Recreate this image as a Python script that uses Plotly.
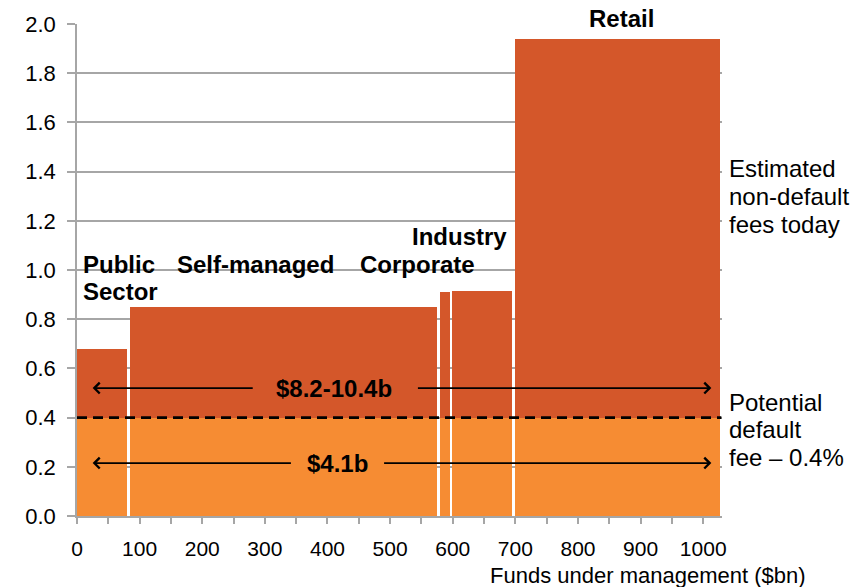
import plotly.graph_objects as go

# ---- data ----
segments = ["Public Sector", "Self-managed", "Corporate", "Industry", "Retail"]
fum_bn = [82, 495, 20, 100, 332]          # funds under management ($bn), bar widths
current_fee = [0.68, 0.85, 0.91, 0.915, 1.94]  # estimated non-default fees today (%)
default_fee = 0.4                          # potential default fee (%)
x_ticks = [0, 100, 200, 300, 400, 500, 600, 700, 800, 900, 1000]
y_ticks = [0.0, 0.2, 0.4, 0.6, 0.8, 1.0, 1.2, 1.4, 1.6, 1.8, 2.0]
upper_label = "$8.2-10.4b"
lower_label = "$4.1b"

DARK = "#D4572A"
LIGHT = "#F68C33"
GRID = "#A6A6A6"
FONT = "Liberation Sans, Arial, sans-serif"

gap = 4
starts, centers, widths = [], [], []
cum = 0
for i, w in enumerate(fum_bn):
    left = cum + (gap / 2 if i > 0 else 0)
    right = cum + w - gap / 2
    starts.append(left)
    centers.append((left + right) / 2)
    widths.append(right - left)
    cum += w
total = cum

fig = go.Figure()
fig.add_trace(go.Bar(x=centers, y=[default_fee] * len(fum_bn), width=widths, base=0,
                     marker=dict(color=LIGHT, line=dict(width=0)), showlegend=False,
                     hoverinfo="skip"))
fig.add_trace(go.Bar(x=centers, y=[f - default_fee for f in current_fee], width=widths,
                     base=default_fee, marker=dict(color=DARK, line=dict(width=0)),
                     showlegend=False, hoverinfo="skip"))

# dashed default-fee line
fig.add_shape(type="line", x0=0, x1=total, y0=default_fee, y1=default_fee, xref="x", yref="y",
              line=dict(color="black", width=2.6, dash="10px,6px"))

# arrows
def arrow(tip, tail, y):
    fig.add_annotation(x=tip, y=y, ax=tail, ay=y, xref="x", yref="y", axref="x", ayref="y",
                       text="", showarrow=True, arrowhead=4, arrowsize=1.3, arrowwidth=1.6,
                       arrowcolor="black")

arrow(25, 283, 0.52)
arrow(1013, 542, 0.52)
arrow(25, 344, 0.215)
arrow(1013, 488, 0.215)

bold = dict(size=24, color="black", family=FONT)
reg = dict(size=24, color="black", family=FONT)

fig.add_annotation(x=411, y=0.52, text=f"<b>{upper_label}</b>", showarrow=False, font=bold)
fig.add_annotation(x=416, y=0.215, text=f"<b>{lower_label}</b>", showarrow=False, font=bold)

# segment labels
fig.add_annotation(x=7, y=1.024, text="<b>Public</b>", showarrow=False,
                   xanchor="left", font=bold)
fig.add_annotation(x=7, y=0.911, text="<b>Sector</b>", showarrow=False,
                   xanchor="left", font=bold)
fig.add_annotation(x=285, y=1.024, text="<b>Self-managed</b>", showarrow=False, font=bold)
fig.add_annotation(x=543, y=1.024, text="<b>Corporate</b>", showarrow=False, font=bold)
fig.add_annotation(x=611, y=1.138, text="<b>Industry</b>", showarrow=False, font=bold)
fig.add_annotation(x=870, y=1.0102, yref="paper", yanchor="middle", text="<b>Retail</b>",
                   showarrow=False, font=bold, bgcolor="white", borderpad=1)

for txt, yv in [("Estimated", 1.411), ("non-default", 1.297), ("fees today", 1.187),
                ("Potential", 0.463), ("default", 0.350), ("fee – 0.4%", 0.236)]:
    fig.add_annotation(x=1.008, xref="paper", y=yv, text=txt, showarrow=False,
                       xanchor="left", font=reg)

fig.add_annotation(xref="paper", yref="paper", x=1.133, y=-0.12, xanchor="right",
                   yanchor="middle", text="Funds under management ($bn)", showarrow=False,
                   font=dict(size=22, color="black", family=FONT))

fig.update_layout(
    width=866, height=587,
    margin=dict(l=77, r=144, t=24, b=71, autoexpand=False),
    paper_bgcolor="white", plot_bgcolor="white",
    barmode="overlay", bargap=0,
    font=dict(family=FONT, size=21, color="black"),
    xaxis=dict(range=[0, 1030], tickvals=x_ticks, ticktext=[str(v) for v in x_ticks],
               automargin=False,
               showgrid=False, zeroline=False, showline=True, linecolor=GRID, linewidth=1.5,
               ticks="outside", ticklen=6, tickwidth=1.5, tickcolor=GRID,
               ticklabelstandoff=7,
               minor=dict(dtick=50, tick0=0, ticks="outside", ticklen=6, tickwidth=1.5,
                          tickcolor=GRID, showgrid=False),
               tickfont=dict(size=21, color="black")),
    yaxis=dict(range=[0, 2.0], tickvals=y_ticks, ticktext=[f"{v:.1f}" for v in y_ticks],
               automargin=False,
               showgrid=True, gridcolor=GRID, gridwidth=1.5, zeroline=False, showline=True,
               linecolor=GRID, linewidth=1.5, ticks="outside", ticklen=8, tickwidth=1.5,
               tickcolor=GRID, ticklabelstandoff=7, tickfont=dict(size=22, color="black")),
)

fig.write_html("out.html", config={"displayModeBar": False},
               post_script="document.body.style.margin='0';document.body.style.padding='0';")
